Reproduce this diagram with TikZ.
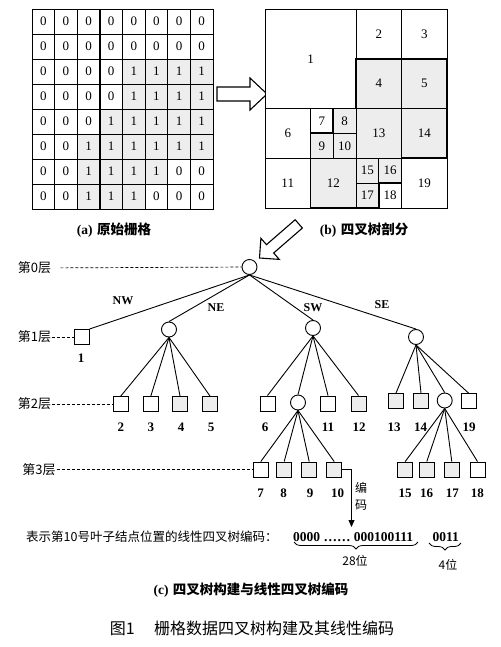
\documentclass[tikz,border=0pt]{standalone}
\usepackage{fontspec}
\setmainfont{Liberation Serif}
\newfontfamily\cjk{Noto Sans CJK SC}
\usetikzlibrary{decorations.pathreplacing,arrows.meta}
\colorlet{shade}{black!7}
\colorlet{cell0}{white}
\colorlet{cell1}{shade}
\begin{document}
\begin{tikzpicture}[x=1pt,y=-1pt,
  gcell/.style={draw,line width=0.8pt,minimum width=22.625pt,minimum height=25pt,inner sep=0pt,font=\fontsize{13}{13}\selectfont},
  qline/.style={line width=0.8pt},
  qbold/.style={line width=1.8pt,line join=miter},
  qnum/.style={font=\fontsize{13}{13}\selectfont,inner sep=0pt},
  hollow/.style={line width=1.1pt,fill=white,line join=miter},
  leafbox/.style={draw,line width=0.9pt,minimum size=15pt,inner sep=0pt,fill=white},
  leafgray/.style={leafbox,fill=shade},
  innernode/.style={draw,circle,line width=0.9pt,minimum size=15pt,inner sep=0pt,fill=white},
  treeline/.style={line width=0.9pt},
  lvl/.style={font=\cjk\fontsize{13}{13}\selectfont,inner sep=1pt},
  lvline/.style={line width=0.7pt,dash pattern=on 3pt off 2pt},
  numlab/.style={font=\bfseries\fontsize{13}{13}\selectfont,inner sep=0pt},
  dirlab/.style={font=\bfseries\fontsize{12}{12}\selectfont,inner sep=0pt},
  captext/.style={font=\bfseries\fontsize{13.5}{14}\selectfont,inner sep=0pt},
  cjktext/.style={font=\cjk\fontsize{12.5}{13}\selectfont,inner sep=0pt},
  codetext/.style={font=\bfseries\fontsize{13.5}{14}\selectfont,inner sep=0pt},
]
\useasboundingbox (0,0) rectangle (500,647);

% ---------- (a) raster grid ----------
\foreach \rowv [count=\r] in {{0,0,0,0,0,0,0,0},{0,0,0,0,0,0,0,0},{0,0,0,0,1,1,1,1},{0,0,0,0,1,1,1,1},{0,0,0,1,1,1,1,1},{0,0,1,1,1,1,1,1},{0,0,1,1,1,1,0,0},{0,0,1,1,1,0,0,0}}{
  \foreach \v [count=\c] in \rowv {
    \node[gcell,fill=cell\v] (g\r-\c) at ({32+(\c-0.5)*22.625},{9+(\r-0.5)*25}) {\v};
  }
}
\draw[line width=1.3pt] (g1-3.north east) -- (g8-3.south east);
\draw[line width=1.3pt] (g4-1.south west) -- (g4-3.south east);
\node[captext] (capa) at (114,230) {(a)\,\,{\cjk 原始栅格}};

% ---------- right hollow arrow ----------
\draw[hollow] (217,87) -- (250,87) -- (250,78) -- (267,94) -- (250,110) -- (250,101) -- (217,101) -- cycle;

% ---------- (b) quadtree partition ----------
\begin{scope}[shift={(265,9)},x=22.75pt,y=-24.875pt]
  \foreach \xa/\ya/\xb/\yb/\fc/\nm in {0/0/4/4/white/1,4/0/6/2/white/2,6/0/8/2/white/3,4/2/6/4/shade/4,6/2/8/4/shade/5,0/4/2/6/white/6,2/4/3/5/white/7,3/4/4/5/shade/8,2/5/3/6/shade/9,3/5/4/6/shade/10,0/6/2/8/white/11,2/6/4/8/shade/12,4/4/6/6/shade/13,6/4/8/6/shade/14,4/6/5/7/shade/15,5/6/6/7/shade/16,4/7/5/8/shade/17,5/7/6/8/white/18,6/6/8/8/white/19}{
    \draw[qline,fill=\fc] (\xa,\ya) rectangle (\xb,\yb);
    \node[qnum] (q\nm) at ({(\xa+\xb)/2},{(\ya+\yb)/2}) {\nm};
  }
  \draw[qbold] (4,2) -- (8,2) -- (8,6) -- (6,6) -- (6,7) -- (5,7) -- (5,8) -- (2,8) -- (2,5) -- (3,5) -- (3,4) -- (4,4) -- cycle;
\end{scope}
\node[captext] (capb) at (364,230) {(b)\,\,{\cjk 四叉树剖分}};

% ---------- down-left hollow arrow ----------
\draw[hollow] (259.5,258) -- (279.25,259.39) -- (273.68,252.97) -- (302.37,228.05) -- (295.15,219.75) -- (266.46,244.67) -- (260.89,238.25) -- cycle;

% ---------- (c) tree ----------
\node[innernode] (root) at (249.5,267) {};
\node[leafbox] (n1) at (81.5,337) {};
\node[innernode] (ne) at (169,329.5) {};
\node[innernode] (sw) at (313,328) {};
\node[innernode] (se) at (416,337) {};

\node[leafbox] (n2) at (120.8,404) {};
\node[leafbox] (n3) at (150.8,404) {};
\node[leafgray] (n4) at (180,404) {};
\node[leafgray] (n5) at (210,404) {};

\node[leafbox] (n6) at (267.5,403.5) {};
\node[innernode] (swc) at (298,402.5) {};
\node[leafbox] (n11) at (328,403.5) {};
\node[leafgray] (n12) at (358.5,403.5) {};

\node[leafgray] (n13) at (396,401) {};
\node[leafgray] (n14) at (421,401) {};
\node[innernode] (sec) at (444.7,400.5) {};
\node[leafbox] (n19) at (468.5,401) {};

\node[leafbox] (n7) at (260.8,469.5) {};
\node[leafgray] (n8) at (284.2,469.5) {};
\node[leafgray] (n9) at (309.2,469.5) {};
\node[leafgray] (n10) at (334.2,469.5) {};
\node[leafgray] (n15) at (405.2,469.5) {};
\node[leafgray] (n16) at (426.8,469.5) {};
\node[leafgray] (n17) at (451.8,469.5) {};
\node[leafbox] (n18) at (477.5,469.5) {};

\draw[treeline] (root.south) -- (n1.north east);
\foreach \t in {ne,sw,se} \draw[treeline] (root.south) -- (\t.north);
\foreach \t in {n2,n3,n4,n5} \draw[treeline] (ne.south) -- (\t.north);
\foreach \t in {n6,swc,n11,n12} \draw[treeline] (sw.south) -- (\t.north);
\foreach \t in {n13,n14,sec,n19} \draw[treeline] (se.south) -- (\t.north);
\foreach \t in {n7,n8,n9,n10} \draw[treeline] (swc.south) -- (\t.north);
\foreach \t in {n15,n16,n17,n18} \draw[treeline] (sec.south) -- (\t.north);

% direction labels
\node[dirlab] (lnw) at (123,301) {NW};
\node[dirlab] (lne) at (216,308) {NE};
\node[dirlab] (lsw) at (313,308) {SW};
\node[dirlab] (lse) at (382,305) {SE};

% leaf labels
\node[numlab] (t1) at (81,358) {1};
\node[numlab] (t2) at (120.8,427) {2};
\node[numlab] (t3) at (150.8,427) {3};
\node[numlab] (t4) at (181,427) {4};
\node[numlab] (t5) at (211,427) {5};
\node[numlab] (t6) at (265,427) {6};
\node[numlab] (t11) at (328,427) {11};
\node[numlab] (t12) at (359,427) {12};
\node[numlab] (t13) at (394,427.5) {13};
\node[numlab] (t14) at (420.7,427.5) {14};
\node[numlab] (t19) at (469,427.5) {19};
\node[numlab] (t7) at (260.7,493.3) {7};
\node[numlab] (t8) at (283.7,493.3) {8};
\node[numlab] (t9) at (310,493.3) {9};
\node[numlab] (t10) at (337.7,493.3) {10};
\node[numlab] (t15) at (405,493.3) {15};
\node[numlab] (t16) at (426.7,493.3) {16};
\node[numlab] (t17) at (452.3,493.3) {17};
\node[numlab] (t18) at (477.3,493.3) {18};

% level labels
\node[lvl] (lv0) at (34.5,268) {第0层};
\node[lvl] (lv1) at (34.5,337) {第1层};
\node[lvl] (lv2) at (34.5,404) {第2层};
\node[lvl] (lv3) at (39,469.5) {第3层};
\draw[lvline,shorten <=8pt] (lv0) -- (root);
\draw[lvline] (lv1) -- (n1);
\draw[lvline] (lv2) -- (n2);
\draw[lvline] (lv3) -- (n7);

% encoding arrow
\coordinate (enctip) at (351.5,527);
\draw[line width=0.8pt,-{Triangle[length=7pt,width=6pt]}] (n10.east) -| (enctip);
\node[font=\cjk\fontsize{12}{17}\selectfont,align=center,inner sep=0pt] (enc) at (361,496.5) {编\\码};

% code line
\node[cjktext,anchor=west] (codelabel) at (26,537) {表示第10号叶子结点位置的线性四叉树编码：};
\node[codetext,anchor=west] (code1) at (293,537) {0000 …… 000100111};
\node[codetext,anchor=west] (code2) at (432.5,537) {0011};
\coordinate (b1l) at (294,542);
\coordinate (b1r) at (418,542);
\coordinate (b2l) at (429,543);
\coordinate (b2r) at (461,543);
\draw[decorate,decoration={brace,amplitude=7pt},line width=0.8pt] (b1r) -- (b1l);
\draw[decorate,decoration={brace,amplitude=7pt},line width=0.8pt] (b2r) -- (b2l);
\node[font=\cjk\fontsize{12}{12}\selectfont,inner sep=0pt] (w28) at (355,561) {28位};
\node[font=\cjk\fontsize{12}{12}\selectfont,inner sep=0pt] (w4) at (448,565) {4位};

% captions
\node[captext] (capc) at (251,590) {(c)\,\,{\cjk 四叉树构建与线性四叉树编码}};
\node[font=\cjk\fontsize{16}{16}\selectfont,inner sep=0pt] (fig) at (252,628) {图1\hspace{1.2em}栅格数据四叉树构建及其线性编码};
\end{tikzpicture}
\end{document}
